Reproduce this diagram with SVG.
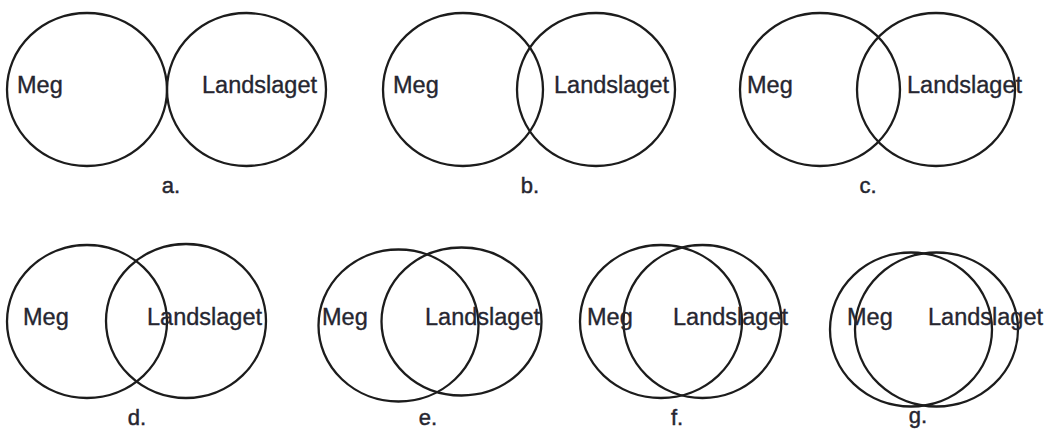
<svg xmlns="http://www.w3.org/2000/svg" width="1048" height="431" viewBox="0 0 1048 431">
  <style>
    .set { fill: none; stroke: #1c1c1c; stroke-width: 2.3; }
    .name { font-family: "Liberation Sans", Arial, sans-serif; font-size: 23.5px; fill: #262630; stroke: #262630; stroke-width: 0.35; }
    .cap { font-family: "Liberation Sans", Arial, sans-serif; font-size: 22px; fill: #262630; stroke: #262630; stroke-width: 0.45; text-anchor: middle; }
  </style>
  <rect width="1048" height="431" fill="#ffffff"/>

  <!-- a: sets just touching -->
  <g id="a">
    <ellipse class="set" cx="87" cy="89.5" rx="80" ry="76.5"/>
    <ellipse class="set" cx="246.5" cy="89.5" rx="79.5" ry="76.5"/>
    <text class="name" x="17" y="93">Meg</text>
    <text class="name" x="202" y="93">Landslaget</text>
    <text class="cap" x="171" y="193">a.</text>
  </g>

  <!-- b: small overlap -->
  <g id="b">
    <ellipse class="set" cx="463" cy="89.5" rx="80" ry="76.5"/>
    <ellipse class="set" cx="596" cy="89.5" rx="79" ry="76.5"/>
    <text class="name" x="393" y="93">Meg</text>
    <text class="name" x="554" y="93">Landslaget</text>
    <text class="cap" x="530" y="193">b.</text>
  </g>

  <!-- c -->
  <g id="c">
    <ellipse class="set" cx="820" cy="89.5" rx="80" ry="76.5"/>
    <ellipse class="set" cx="936" cy="89.5" rx="79" ry="76.5"/>
    <text class="name" x="747" y="93">Meg</text>
    <text class="name" x="907" y="93">Landslaget</text>
    <text class="cap" x="868" y="193">c.</text>
  </g>

  <!-- d -->
  <g id="d">
    <ellipse class="set" cx="87" cy="321.5" rx="80" ry="76.5"/>
    <ellipse class="set" cx="186" cy="321" rx="80" ry="77"/>
    <text class="name" x="23" y="325">Meg</text>
    <text class="name" x="147" y="325">Landslaget</text>
    <text class="cap" x="137" y="425">d.</text>
  </g>

  <!-- e -->
  <g id="e">
    <ellipse class="set" cx="398.5" cy="325.5" rx="80" ry="76"/>
    <ellipse class="set" cx="461.5" cy="321.5" rx="80" ry="74"/>
    <text class="name" x="322" y="325">Meg</text>
    <text class="name" x="425" y="325">Landslaget</text>
    <text class="cap" x="428" y="425">e.</text>
  </g>

  <!-- f -->
  <g id="f">
    <ellipse class="set" cx="661" cy="321.5" rx="81" ry="76.5"/>
    <ellipse class="set" cx="702.5" cy="321.5" rx="79" ry="76.5"/>
    <text class="name" x="587" y="325">Meg</text>
    <text class="name" x="673" y="325">Landslaget</text>
    <text class="cap" x="677" y="425">f.</text>
  </g>

  <!-- g: nearly the same set -->
  <g id="g">
    <ellipse class="set" cx="911" cy="329.5" rx="81" ry="77"/>
    <ellipse class="set" cx="936.5" cy="329.5" rx="81.5" ry="77"/>
    <text class="name" x="847" y="325">Meg</text>
    <text class="name" x="928" y="325">Landslaget</text>
    <text class="cap" x="918" y="423">g.</text>
  </g>
</svg>
